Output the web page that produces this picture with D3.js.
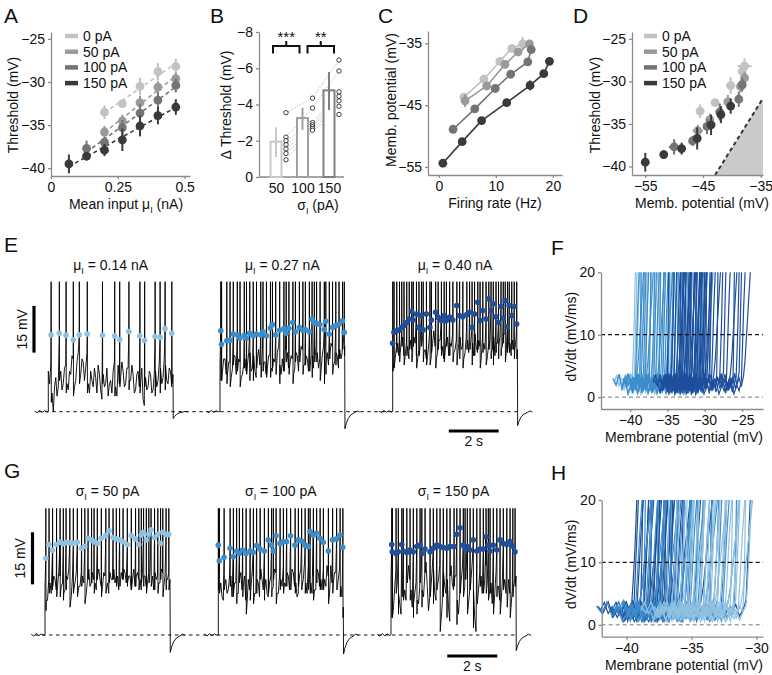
<!DOCTYPE html>
<html><head><meta charset="utf-8">
<script src="https://cdn.jsdelivr.net/npm/d3@7/dist/d3.min.js"></script>
<style>html,body{margin:0;padding:0;background:#fff;} svg{display:block;}</style>
</head><body>
<svg id="fig" width="772" height="675"></svg>
<script>
// ================= DATA =================
const sigmaLabels = ["0 pA","50 pA","100 pA","150 pA"];
const greyShades = ["#c2c2c2","#9a9a9a","#747474","#3a3a3a"];

// Panel A : threshold (mV) vs mean input (nA)
const xTicksA = [0,0.25,0.5];
const yTicksA = [-25,-30,-35,-40];
const muA0 = [0.2,0.267,0.333,0.4,0.467];
const muA1 = [0.2,0.267,0.333,0.4,0.467];
const muA2 = [0.133,0.2,0.267,0.333,0.4,0.467];
const muA3 = [0.067,0.133,0.2,0.267,0.333,0.4,0.467];
const thrA0 = [-33.5,-32.5,-30.5,-28.8,-28.2];
const thrA1 = [-35.8,-34.5,-32.4,-30.6,-29.6];
const thrA2 = [-37.7,-37.0,-35.3,-33.6,-32.1,-30.4];
const thrA3 = [-39.5,-38.6,-37.9,-36.7,-35.1,-33.9,-32.9];
const thrErrA0 = [0.8,0.3,1.0,1.0,0.9];
const thrErrA1 = [0.7,0.7,0.8,0.7,0.7];
const thrErrA2 = [0.9,0.6,0.9,1.0,0.9,0.8];
const thrErrA3 = [1.1,0.5,0.7,1.3,1.2,1.0,0.9];

// Panel B : delta threshold per sigma
const sigmaB = ["50","100","150"];
const barColorsB = ["#c8c8c8","#a0a0a0","#808080"];
const dThrMean = [-1.95,-3.25,-4.78];
const dThrLo = [-1.1,-2.6,-3.7];
const dThrHi = [-2.75,-3.82,-5.8];
const cells50 = [-3.55,-2.2,-2.0,-1.78,-1.55,-1.3,-0.95];
const cells100 = [-4.35,-3.8,-3.0,-2.88,-2.78,-2.68,-2.58];
const cells150 = [-6.45,-5.85,-4.7,-4.45,-4.2,-3.9,-3.45];
const yTicksB = [0,-2,-4,-6,-8];
const starsB = ["***","**"];

// Panel C : membrane potential vs firing rate
const xTicksC = [0,10,20];
const yTicksC = [-35,-45,-55];
const rateC0 = [4.4,7.9,10.7,12.8,14.7];
const vmC0 = [-43.7,-40.8,-37.9,-35.8,-35.1];
const rateC1 = [4.6,8.4,11.6,13.9,15.9];
const vmC1 = [-44.3,-41.9,-38.4,-36.4,-35.1];
const rateC2 = [2.5,6.3,9.9,12.6,15.6,16.2];
const vmC2 = [-48.9,-45.6,-42.3,-40.0,-38.0,-36.0];
const rateC3 = [0.7,4.1,7.5,11.9,16.0,18.4,19.4];
const vmC3 = [-54.4,-50.9,-47.5,-44.6,-41.8,-39.9,-37.9];
const vmErrC0 = [0.5,0.3,0.5,0.4,1.1];
const vmErrC1 = [1.0,0.4,0.4,0.5,0.6];
const vmErrC2 = [0.3,0.4,0.4,0.4,0.5,0.6];
const vmErrC3 = [0.3,0.3,0.4,0.6,0.8,0.4,0.4];

// Panel D : threshold vs membrane potential
const xTicksD = [-55,-45,-35];
const yTicksD = [-25,-30,-35,-40];
const vmD0 = [-45.5,-42.9,-40.2,-38.2,-37.8];
const vmD1 = [-45.9,-43.8,-40.7,-38.5,-37.8];
const vmD2 = [-50.0,-46.8,-44.3,-42.1,-38.8,-38.2];
const vmD3 = [-55.0,-51.8,-48.7,-46.0,-43.6,-41.9,-40.2];
const vmErrD0 = [0.3,0.2,0.8,0.4,1.2];
const vmErrD1 = [0.9,0.4,0.4,0.5,0.6];
const vmErrD2 = [0.9,0.4,0.5,0.4,0.6,0.5];
const vmErrD3 = [0.3,0.4,0.6,0.5,0.7,0.5,0.4];
const unityLine = [[-42.9,-41.0],[-34.8,-32.2]];

// Panels E & G : voltage traces (mV above rest, sampled every 0.05 s over the 5 s step)
const blueShades = ["#8fc1e3","#3c8dcb","#1f4f9c"];
const titlesE = ["0.14 nA","0.27 nA","0.40 nA"];
const titlesG = ["50 pA","100 pA","150 pA"];
const noiseE1 = [13,9,15,6,0,8,11,5,8,12,13,7,9,14,15,9,7,13,12,18,17,8,10,16,19,11,12,17,16,10,14,19,9,6,13,10,8,14,11,6,15,12,7,4,12,8,9,14,5,9,10,6,13,16,8,5,15,9,11,16,13,8,9,14,14,10,10,15,12,6,7,12,13,8,9,14,4,2,11,7,8,13,12,6,7,12,13,8,10,16,14,9,11,17,15,10,9,14,13,8,12];
const noiseE2 = [15,11,13,17,17,12,12,16,16,11,14,18,18,12,13,17,16,11,12,15,17,13,15,19,19,13,14,18,13,11,17,20,15,11,20,16,16,12,14,18,18,14,13,17,16,12,19,21,15,12,17,13,16,20,19,14,15,18,17,12,14,19,18,13,16,21,20,15,15,18,17,13,13,18,18,14,16,21,19,14,17,13,18,21,16,12,19,15,17,22,21,15,16,19,18,14,20,17,19,23,21];
const noiseE3 = [20,16,17,21,22,18,19,23,24,18,18,22,21,17,23,20,19,24,22,18,17,20,21,25,24,19,20,17,18,22,23,18,22,26,21,17,19,23,23,20,21,17,19,24,24,18,22,21,25,19,20,23,18,22,24,20,21,17,19,24,23,19,20,24,22,18,25,21,19,23,21,17,24,22,20,25,18,22,23,19,20,24,18,22,22,17,24,20,21,25,25,19,19,23,22,18,23,20,20,24,20];
const spikeTE1 = [0.11,0.44,0.71,1.0,1.24,1.56,2.17,2.66,2.86,3.23,3.67,3.86,4.28,4.48,4.68,4.95];
const spikeVE1 = [24.7,25.2,24.6,23.1,24.7,25.0,24.6,24.4,23.2,25.8,24.4,22.9,24.2,23.9,26.7,25.2];
const spikeTE2 = [0.03,0.06,0.27,0.40,0.53,0.69,0.80,0.97,1.06,1.19,1.33,1.46,1.63,1.72,1.86,2.02,2.10,2.23,2.39,2.56,2.65,2.76,2.92,3.02,3.18,3.32,3.42,3.58,3.69,3.78,3.87,4.01,4.18,4.24,4.38,4.51,4.64,4.77,4.91,4.98];
const spikeVE2 = [26.0,21.7,22.8,23.0,25.0,24.7,23.6,24.6,23.6,25.2,24.4,25.0,24.7,25.7,24.4,26.9,28.0,24.7,26.2,26.7,25.2,26.8,28.7,25.7,27.1,26.2,26.4,25.7,29.8,28.7,28.4,28.0,26.4,29.1,25.0,27.1,27.6,28.1,29.2,25.5];
const spikeTE3 = [0,0.05,0.16,0.27,0.36,0.45,0.56,0.66,0.76,0.82,0.95,1.05,1.15,1.22,1.35,1.49,1.55,1.72,1.82,1.95,2.06,2.15,2.28,2.41,2.57,2.68,2.81,2.97,3.08,3.18,3.28,3.41,3.50,3.61,3.74,3.85,3.94,4.03,4.14,4.24,4.34,4.43,4.51,4.60,4.67,4.77,4.87,4.97];
const spikeVE3 = [22.0,25.5,26.0,26.3,27.1,27.6,28.7,29.8,32.3,29.5,31.4,27.1,30.9,26.3,31.4,27.1,29.5,32.0,30.4,29.3,30.9,29.3,30.4,29.5,34.1,30.9,30.5,31.2,32.0,27.1,31.4,35.2,29.3,32.5,29.8,36.3,32.5,34.7,30.5,28.7,33.8,30.1,35.7,27.3,34.1,30.9,33.8,28.2];
const ahpE = [-2.2,-5.5,-4.5];

const noiseG1 = [14,10,10,16,15,12,13,17,16,13,14,18,17,14,15,12,13,17,16,19,14,11,17,13,15,18,16,14,14,18,17,15,15,12,16,19,14,15,18,16,15,13,17,19,16,14,14,18,17,13,15,12,18,16,16,19,15,17,17,13,14,18,16,19,18,15,15,17,17,13,16,19,14,17,18,16,16,13,18,17,17,14,15,18,18,16,17,13,18,16,17,15,15,19,18,14,17,16,16,18,16];
const noiseG2 = [12,16,15,11,10,14,16,12,13,17,17,11,11,15,15,12,12,16,18,13,14,17,10,9,16,13,13,18,17,12,12,16,15,11,19,16,13,10,16,12,11,15,17,13,14,19,18,12,12,17,16,14,20,15,14,18,17,13,13,19,18,14,15,11,12,17,19,14,16,21,15,12,20,16,15,12,17,13,13,19,18,14,16,13,19,16,14,20,17,12,20,15,15,18,18,13,16,19,14,11,8];
const noiseG3 = [16,12,8,14,19,15,12,9,6,11,17,13,10,15,20,16,13,8,5,12,15,10,9,14,18,13,11,17,21,14,7,11,14,19,19,12,10,14,16,20,4,9,18,14,12,16,8,4,20,15,13,17,17,10,6,12,15,19,11,14,19,16,9,13,16,21,13,5,1,9,13,18,17,12,12,16,20,15,10,13,15,9,6,12,18,14,14,10,9,15,19,16,12,8,16,12,8,13,14,16,17];
const spikeTG1 = [0.03,0.16,0.30,0.46,0.60,0.73,0.84,0.99,1.13,1.29,1.46,1.59,1.72,1.86,1.96,2.09,2.25,2.43,2.56,2.72,2.85,2.98,3.12,3.29,3.45,3.62,3.75,3.85,3.94,4.05,4.15,4.24,4.38,4.51,4.62,4.71,4.84,4.95];
const spikeVG1 = [22.1,26.1,24.4,26.1,26.7,26.3,26.7,26.6,26.4,26.7,25.0,25.5,27.9,27.4,26.9,26.4,27.9,28.7,30.0,28.1,27.7,27.4,26.9,26.1,28.7,27.7,26.1,28.8,29.6,27.4,29.0,30.3,28.1,29.0,26.4,29.6,29.0,29.0];
const spikeTG2 = [0.0,0.04,0.23,0.47,0.60,0.73,0.84,0.97,1.11,1.27,1.40,1.53,1.67,1.84,2.00,2.13,2.20,2.31,2.47,2.60,2.73,2.89,3.07,3.20,3.33,3.47,3.60,3.67,3.80,3.93,4.07,4.20,4.40,4.57,4.73,4.87,4.98];
const spikeVG2 = [25.9,21.4,22.4,25.0,22.6,24.2,23.5,24.5,23.5,24.2,23.8,25.8,24.8,24.2,27.4,25.9,24.2,28.6,26.4,26.9,26.9,28.6,25.9,27.4,27.1,25.9,25.5,29.8,28.8,29.3,27.9,26.7,24.2,27.4,27.7,28.8,25.3];
const spikeTG3 = [0.03,0.05,0.20,0.29,0.43,0.49,0.63,0.76,0.89,1.03,1.16,1.23,1.36,1.56,1.69,1.83,1.96,2.09,2.23,2.36,2.52,2.63,2.76,2.89,2.96,3.05,3.16,3.29,3.43,3.56,3.69,3.80,3.89,3.96,4.09,4.23,4.36,4.49,4.63,4.76,4.87,4.96];
const spikeVG3 = [26.1,24.0,23.5,24.0,26.1,24.2,23.8,24.5,24.0,25.5,25.9,23.5,24.8,24.0,25.0,25.9,25.5,25.2,25.0,25.5,25.5,29.0,30.9,25.9,25.0,25.5,24.5,27.4,24.2,24.8,24.8,28.3,25.9,24.2,25.9,24.5,27.4,26.4,26.1,26.9,25.6,24.0];
const ahpG = [-5.0,-5.5,-4.5];
const restPre = [[-0.55,0.2],[-0.45,-0.3],[-0.35,0.4],[-0.25,-0.2],[-0.15,0.3],[-0.05,-0.1],[0,0.1]];
const ahpShape = [[5.01,1],[5.06,0.7],[5.14,0.4],[5.25,0.18],[5.4,0.05],[5.5,-0.05],[5.6,0.02]];

// Panels F & H : phase plots (onset voltage of each spike, shape templates)
const phaseTemplates = [
  [[-2.4,2.3],[-2.1,3.6],[-1.8,1.8],[-1.5,2.9],[-1.1,1.2],[-0.8,2.4],[-0.5,0.8],[-0.25,2.0],[0,3.2],[0.12,7],[0.25,12],[0.4,20]],
  [[-1.7,1.1],[-1.4,2.7],[-1.1,1.6],[-0.8,3.3],[-0.5,1.4],[-0.2,2.6],[0,4.0],[0.1,9],[0.22,15],[0.32,20]],
  [[-3.0,3.0],[-2.6,1.9],[-2.2,3.7],[-1.8,1.3],[-1.4,2.8],[-1.0,0.5],[-0.6,1.9],[-0.3,1.0],[0,2.7],[0.15,8],[0.3,14],[0.5,20]],
  [[-2.0,1.5],[-1.7,3.0],[-1.4,2.2],[-1.2,3.8],[-0.9,2.0],[-0.6,3.1],[-0.3,1.7],[0,3.5],[0.2,6],[0.45,11],[0.7,16],[0.9,20]],
  [[-1.2,2.0],[-1.0,0.6],[-0.8,2.4],[-0.55,1.1],[-0.3,3.0],[-0.1,2.2],[0,3.8],[0.08,10],[0.16,20]]
];
const fLight = [-39.7,-39.4,-39.2,-38.8,-38.6,-38.1,-37.9,-37.6,-37.2,-36.9,-36.5,-36.2,-35.7,-35.3,-34.7,-34.1];
const fMid = [-39.3,-39.1,-38.7,-38.5,-38.2,-38.0,-37.8,-37.4,-37.1,-36.8,-36.6,-36.3,-36.1,-35.9,-35.6,-35.4,-35.2,-34.9,-34.6,-34.4,-34.2,-33.9,-33.7,-33.5,-33.2,-33.0,-32.8,-32.5,-32.3,-32.0,-31.8,-31.5,-31.2,-30.9,-30.5,-30.2,-29.8,-29.3];
const fDark = [-35.0,-34.5,-34.1,-33.8,-33.6,-33.4,-33.3,-33.1,-33.0,-32.8,-32.7,-32.5,-32.4,-32.3,-32.1,-32.0,-31.8,-31.7,-31.5,-31.4,-31.3,-31.1,-31.0,-30.8,-30.7,-30.6,-30.4,-30.3,-30.2,-30.0,-29.9,-29.7,-29.4,-29.1,-28.8,-28.4,-28.0,-27.5,-27.1,-26.6,-26.2,-25.8,-25.4,-25.1,-24.8];
const hDark = [-39.6,-39.4,-39.2,-39.0,-38.9,-38.7,-38.6,-38.4,-38.3,-38.2,-38.0,-37.9,-37.8,-37.7,-37.6,-37.5,-37.4,-37.3,-37.2,-37.1,-37.0,-36.9,-36.8,-36.7,-36.6,-36.5,-36.4,-36.2,-36.0,-35.8,-35.5,-35.2,-34.8,-34.3,-33.6,-32.7,-30.8];
const hMid = [-39.3,-39.0,-38.7,-38.5,-38.3,-38.1,-37.9,-37.7,-37.5,-37.3,-37.1,-36.9,-36.7,-36.5,-36.3,-36.1,-35.9,-35.7,-35.5,-35.3,-35.1,-34.9,-34.7,-34.5,-34.3,-34.1,-33.9,-33.6,-33.3,-33.0,-32.6,-32.2,-31.7];
const hLight = [-36.9,-36.5,-36.2,-35.9,-35.7,-35.5,-35.3,-35.1,-34.9,-34.8,-34.6,-34.4,-34.3,-34.1,-34.0,-33.8,-33.7,-33.5,-33.3,-33.2,-33.0,-32.8,-32.6,-32.4,-32.2,-32.0,-31.8,-31.6,-31.4,-31.2,-31.0,-30.8];
const xTicksF = [-40,-35,-30,-25];
const xTicksH = [-40,-35,-30];
const yTicksPhase = [0,10,20];

// ================= DRAWING =================
const svg = d3.select("#fig");
const FONT = "'Liberation Sans', Arial, Helvetica, sans-serif";
const AXC = "#8a8a8a";
svg.style("font-family", FONT);

function styleAxis(g){
  g.select(".domain").attr("stroke",AXC).attr("stroke-width",1.3);
  g.selectAll(".tick line").attr("stroke",AXC).attr("stroke-width",1.3);
  g.selectAll(".tick text").attr("font-size",14).attr("fill","#111").style("font-family",FONT);
}
function vLabel(x,y,str){
  return svg.append("text").attr("transform",`translate(${x},${y}) rotate(-90)`)
    .attr("text-anchor","middle").attr("font-size",14).attr("fill","#111").text(str);
}
function subLabel(x,y,sym,rest,anchor){
  const t = svg.append("text").attr("x",x).attr("y",y).attr("font-size",14).attr("fill","#111").attr("text-anchor",anchor||"middle");
  t.append("tspan").text(sym);
  t.append("tspan").attr("font-size",9).attr("dy",4).text("I");
  t.append("tspan").attr("dy",-4).text(rest);
  return t;
}
function legend(x0,y0){
  sigmaLabels.forEach((s,i)=>{
    svg.append("line").attr("x1",x0).attr("x2",x0+13).attr("y1",y0+i*15.7).attr("y2",y0+i*15.7)
      .attr("stroke",greyShades[i]).attr("stroke-width",4.5);
    svg.append("text").attr("x",x0+18).attr("y",y0+i*15.7+5).attr("font-size",14).attr("fill","#111").text(s);
  });
}
// panel letters
[["A",4,23],["B",210,23],["C",378,23],["D",573,23],["E",4,252],["F",551,255],["G",4,478],["H",551,480]]
  .forEach(d=>svg.append("text").attr("x",d[1]).attr("y",d[2]).attr("font-size",21).attr("fill","#111").text(d[0]));

// ---------- Panel A ----------
const xA = d3.scaleLinear().domain([0,0.52]).range([51,190]);
const yA = d3.scaleLinear().domain([-40.9,-24.2]).range([176,32]);
svg.append("g").attr("transform","translate(0,176)")
  .call(d3.axisBottom(xA).tickValues(xTicksA).tickFormat(d=>String(d)).tickSize(3).tickSizeOuter(0)).call(styleAxis);
svg.append("g").attr("transform","translate(51,0)")
  .call(d3.axisLeft(yA).tickValues(yTicksA).tickSize(3).tickSizeOuter(0)).call(styleAxis);
vLabel(18,105,"Threshold (mV)");
subLabel(126,209,"Mean input μ","  (nA)");
const seriesA = [[muA0,thrA0,thrErrA0],[muA1,thrA1,thrErrA1],[muA2,thrA2,thrErrA2],[muA3,thrA3,thrErrA3]];
function linFit(xs,ys){
  const mx=d3.mean(xs), my=d3.mean(ys);
  let sxy=0,sxx=0; xs.forEach((x,i)=>{sxy+=(x-mx)*(ys[i]-my); sxx+=(x-mx)*(x-mx);});
  const b=sxy/sxx; return x=>my+b*(x-mx);
}
seriesA.forEach(([xs,ys,es],i)=>{
  const f = linFit(xs,ys);
  const x0=xs[0], x1=xs[xs.length-1];
  svg.append("line").attr("x1",xA(x0)).attr("x2",xA(x1)).attr("y1",yA(f(x0))).attr("y2",yA(f(x1)))
    .attr("stroke",greyShades[i]).attr("stroke-width",1.6).attr("stroke-dasharray","4,3");
});
seriesA.forEach(([xs,ys,es],i)=>{
  const g = svg.append("g");
  xs.forEach((x,j)=>{
    g.append("line").attr("x1",xA(x)).attr("x2",xA(x)).attr("y1",yA(ys[j]-es[j])).attr("y2",yA(ys[j]+es[j]))
      .attr("stroke",greyShades[i]).attr("stroke-width",2);
    g.append("circle").attr("cx",xA(x)).attr("cy",yA(ys[j])).attr("r",4.4).attr("fill",greyShades[i]);
  });
});
legend(65,36);

// ---------- Panel B ----------
const xB = d3.scalePoint().domain(sigmaB).range([276,329]);
const yB = d3.scaleLinear().domain([0,-8]).range([177,32]);
svg.append("g").attr("transform","translate(259,0)")
  .call(d3.axisLeft(yB).tickValues(yTicksB).tickSize(3).tickSizeOuter(0)).call(styleAxis);
svg.append("line").attr("x1",259).attr("x2",344).attr("y1",177).attr("y2",177).attr("stroke",AXC).attr("stroke-width",1.3);
const gxB = svg.append("g").attr("transform","translate(0,177)").call(d3.axisBottom(xB).tickSize(0).tickPadding(6)).call(styleAxis);
gxB.select(".domain").remove();
vLabel(231,105,"Δ Threshold (mV)");
subLabel(318,210,"σ","  (pA)");
const cellsB = [cells50,cells100,cells150];
for(let k=0;k<2;k++){
  cellsB[k].forEach((v,j)=>{
    svg.append("line").attr("x1",xB(sigmaB[k])+10).attr("x2",xB(sigmaB[k+1])+10)
      .attr("y1",yB(v)).attr("y2",yB(cellsB[k+1][j]))
      .attr("stroke","#9a9a9a").attr("stroke-width",0.8).attr("stroke-dasharray","1,1.5");
  });
}
sigmaB.forEach((s,i)=>{
  svg.append("rect").attr("x",xB(s)-5.5).attr("width",11).attr("y",yB(dThrMean[i])).attr("height",yB(0)-yB(dThrMean[i]))
    .attr("fill","#fff").attr("stroke",barColorsB[i]).attr("stroke-width",2);
  svg.append("line").attr("x1",xB(s)).attr("x2",xB(s)).attr("y1",yB(dThrLo[i])).attr("y2",yB(dThrHi[i]))
    .attr("stroke",barColorsB[i]).attr("stroke-width",2);
  cellsB[i].forEach(v=>{
    svg.append("circle").attr("cx",xB(s)+10).attr("cy",yB(v)).attr("r",2.2).attr("fill","#fff").attr("stroke","#111").attr("stroke-width",0.8);
  });
});
[[xB("50")-3,xB("100")-3],[xB("100")+5,xB("150")+5]].forEach((b,i)=>{
  const yb = 46, mid=(b[0]+b[1])/2;
  svg.append("path").attr("d",`M${b[0]},53.5V${yb}H${b[1]}V53.5M${mid},${yb}V41`)
    .attr("fill","none").attr("stroke","#111").attr("stroke-width",2);
  svg.append("text").attr("x",mid).attr("y",42).attr("text-anchor","middle").attr("font-size",15).attr("fill","#111").text(starsB[i]);
});

// ---------- Panel C ----------
const xC = d3.scaleLinear().domain([-1.9,21.6]).range([428,562]);
const yC = d3.scaleLinear().domain([-56.3,-33]).range([175,31]);
svg.append("g").attr("transform","translate(0,175)")
  .call(d3.axisBottom(xC).tickValues(xTicksC).tickSize(3).tickSizeOuter(0)).call(styleAxis);
svg.append("g").attr("transform","translate(428,0)")
  .call(d3.axisLeft(yC).tickValues(yTicksC).tickSize(3).tickSizeOuter(0)).call(styleAxis);
vLabel(396,100,"Memb. potential (mV)");
svg.append("text").attr("x",495).attr("y",208).attr("text-anchor","middle").attr("font-size",14).attr("fill","#111").text("Firing rate (Hz)");
const seriesC = [[rateC0,vmC0,vmErrC0],[rateC1,vmC1,vmErrC1],[rateC2,vmC2,vmErrC2],[rateC3,vmC3,vmErrC3]];
seriesC.forEach(([xs,ys,es],i)=>{
  const pts = xs.map((x,j)=>[x,ys[j]]);
  svg.append("path").attr("d",d3.line().x(d=>xC(d[0])).y(d=>yC(d[1]))(pts))
    .attr("fill","none").attr("stroke",greyShades[i]).attr("stroke-width",1.6);
  pts.forEach((p,j)=>{
    svg.append("line").attr("x1",xC(p[0])).attr("x2",xC(p[0])).attr("y1",yC(p[1]-es[j])).attr("y2",yC(p[1]+es[j]))
      .attr("stroke",greyShades[i]).attr("stroke-width",2);
    svg.append("circle").attr("cx",xC(p[0])).attr("cy",yC(p[1])).attr("r",4.4).attr("fill",greyShades[i]);
  });
});

// ---------- Panel D ----------
const xD = d3.scaleLinear().domain([-57.3,-34.6]).range([632,763]);
const yD = d3.scaleLinear().domain([-41,-24.2]).range([175,32]);
svg.append("path").attr("d",`M${xD(unityLine[0][0])},${yD(unityLine[0][1])}L${xD(unityLine[1][0])},${yD(unityLine[1][1])}L${xD(-34.6)},${yD(unityLine[1][1])}L${xD(-34.6)},${yD(unityLine[0][1])}Z`)
  .attr("fill","#cacaca");
svg.append("line").attr("x1",xD(unityLine[0][0])).attr("y1",yD(unityLine[0][1])).attr("x2",xD(unityLine[1][0])).attr("y2",yD(unityLine[1][1]))
  .attr("stroke","#333").attr("stroke-width",2).attr("stroke-dasharray","4,3");
svg.append("g").attr("transform","translate(0,175)")
  .call(d3.axisBottom(xD).tickValues(xTicksD).tickSize(3).tickSizeOuter(0)).call(styleAxis);
svg.append("g").attr("transform","translate(632,0)")
  .call(d3.axisLeft(yD).tickValues(yTicksD).tickSize(3).tickSizeOuter(0)).call(styleAxis);
vLabel(600,105,"Threshold (mV)");
svg.append("text").attr("x",702).attr("y",208).attr("text-anchor","middle").attr("font-size",14).attr("fill","#111").text("Memb. potential (mV)");
const seriesD = [[vmD0,thrA0,vmErrD0,thrErrA0],[vmD1,thrA1,vmErrD1,thrErrA1],[vmD2,thrA2,vmErrD2,thrErrA2],[vmD3,thrA3,vmErrD3,thrErrA3]];
seriesD.forEach(([xs,ys,ex,ey],i)=>{
  xs.forEach((x,j)=>{
    svg.append("line").attr("x1",xD(x)).attr("x2",xD(x)).attr("y1",yD(ys[j]-ey[j])).attr("y2",yD(ys[j]+ey[j]))
      .attr("stroke",greyShades[i]).attr("stroke-width",2);
    svg.append("line").attr("x1",xD(x-ex[j])).attr("x2",xD(x+ex[j])).attr("y1",yD(ys[j])).attr("y2",yD(ys[j]))
      .attr("stroke",greyShades[i]).attr("stroke-width",2);
    svg.append("circle").attr("cx",xD(x)).attr("cy",yD(ys[j])).attr("r",4.4).attr("fill",greyShades[i]);
  });
});
legend(644,36);

// ---------- Panels E & G (traces) ----------
function buildTrace(noise, sT, sV, top, ahp){
  const step = 5/(noise.length-1);
  const pts = restPre.map(d=>({t:d[0],v:d[1]}));
  noise.forEach((v,i)=>pts.push({t:i*step,v:v}));
  sT.forEach((t,k)=>{
    const idx = Math.min(noise.length-1, Math.round(t/step)+1);
    pts.push({t:t,v:sV[k]});
    pts.push({t:t+0.003,v:top});
    pts.push({t:t+0.01,v:noise[idx]-3});
  });
  pts.sort((a,b)=>a.t-b.t);
  ahpShape.forEach(d=>pts.push({t:d[0],v:ahp*d[1]}));
  return pts;
}
function drawTraceRow(cfg){
  const {starts,width,baseY,topV,pxPerMV,noises,spT,spV,ahps,titles,symbol,titleY,barX,barLow,labelX} = cfg;
  const yT = d3.scaleLinear().domain([0,topV]).range([baseY, baseY-topV*pxPerMV]);
  const xs = starts.map(s=>d3.scaleLinear().domain([0,5]).range([s,s+width]));
  svg.append("line").attr("x1",xs[0](-0.4)).attr("x2",xs[2](5.05)).attr("y1",yT(0)).attr("y2",yT(0))
    .attr("stroke","#111").attr("stroke-width",1).attr("stroke-dasharray","3.5,3.5");
  for(let i=0;i<3;i++){
    const pts = buildTrace(noises[i],spT[i],spV[i],topV,ahps[i]);
    svg.append("path").attr("d",d3.line().x(d=>xs[i](d.t)).y(d=>yT(d.v))(pts))
      .attr("fill","none").attr("stroke","#000").attr("stroke-width",0.9);
    spT[i].forEach((t,k)=>{
      svg.append("circle").attr("cx",xs[i](t)).attr("cy",yT(spV[i][k])).attr("r",2.8).attr("fill",blueShades[i]);
    });
    subLabel(xs[i](2.5),titleY,symbol,"  = "+titles[i]);
  }
  svg.append("line").attr("x1",barX).attr("x2",barX).attr("y1",yT(barLow)).attr("y2",yT(barLow+15))
    .attr("stroke","#000").attr("stroke-width",3.2);
  vLabel(labelX,(yT(barLow)+yT(barLow+15))/2,"15 mV");
  const sbY = cfg.sbY;
  svg.append("line").attr("x1",xs[2](2.25)).attr("x2",xs[2](4.25)).attr("y1",sbY).attr("y2",sbY)
    .attr("stroke","#000").attr("stroke-width",3.2);
  svg.append("text").attr("x",xs[2](3.25)).attr("y",sbY+15).attr("text-anchor","middle").attr("font-size",14).attr("fill","#111").text("2 s");
}
drawTraceRow({starts:[48.3,220,392.7],width:124.7,baseY:411.7,topV:41.8,pxPerMV:3.11,
  noises:[noiseE1,noiseE2,noiseE3],spT:[spikeTE1,spikeTE2,spikeTE3],spV:[spikeVE1,spikeVE2,spikeVE3],ahps:ahpE,
  titles:titlesE,symbol:"μ",titleY:270,barX:34,barLow:19,labelX:27,sbY:431});
drawTraceRow({starts:[45,218.3,391],width:125,baseY:635,topV:36.5,pxPerMV:3.47,
  noises:[noiseG1,noiseG2,noiseG3],spT:[spikeTG1,spikeTG2,spikeTG3],spV:[spikeVG1,spikeVG2,spikeVG3],ahps:ahpG,
  titles:titlesG,symbol:"σ",titleY:496,barX:32.5,barLow:14.6,labelX:25,sbY:656});

// ---------- Panels F & H (phase plots) ----------
function drawPhase(cfg){
  const {xDom,xRange,yRange,xTicks,groups,labelY} = cfg;
  const x = d3.scaleLinear().domain(xDom).range(xRange);
  const y = d3.scaleLinear().domain([-1.9,20]).range(yRange);
  const line = d3.line().x(d=>x(d[0])).y(d=>y(d[1]));
  groups.forEach(([onsets,color],gi)=>{
    onsets.forEach((v0,k)=>{
      const tpl = phaseTemplates[(k+gi*2)%phaseTemplates.length];
      svg.append("path").attr("d",line(tpl.map(p=>[v0+p[0],p[1]])))
        .attr("fill","none").attr("stroke",color).attr("stroke-width",1.2);
    });
  });
  svg.append("line").attr("x1",xRange[0]).attr("x2",xRange[1]).attr("y1",y(10)).attr("y2",y(10))
    .attr("stroke","#111").attr("stroke-width",1.3).attr("stroke-dasharray","4,3");
  svg.append("line").attr("x1",xRange[0]).attr("x2",xRange[1]).attr("y1",y(0)).attr("y2",y(0))
    .attr("stroke","#777").attr("stroke-width",1).attr("stroke-dasharray","4,3");
  svg.append("g").attr("transform",`translate(0,${yRange[0]})`)
    .call(d3.axisBottom(x).tickValues(xTicks).tickSize(3).tickSizeOuter(0)).call(styleAxis);
  svg.append("g").attr("transform",`translate(${xRange[0]},0)`)
    .call(d3.axisLeft(y).tickValues(yTicksPhase).tickSize(3).tickSizeOuter(0)).call(styleAxis);
  vLabel(576,(yRange[0]+yRange[1])/2-4,"dV/dt (mV/ms)");
  svg.append("text").attr("x",684).attr("y",labelY).attr("text-anchor","middle").attr("font-size",14).attr("fill","#111").text("Membrane potential (mV)");
}
drawPhase({xDom:[-43.9,-22.2],xRange:[601,763],yRange:[409,272.3],xTicks:xTicksF,labelY:442,
  groups:[[fLight,blueShades[0]],[fMid,blueShades[1]],[fDark,blueShades[2]]]});
drawPhase({xDom:[-41.9,-29.5],xRange:[601.7,763],yRange:[636.7,500],xTicks:xTicksH,labelY:670,
  groups:[[hDark,blueShades[2]],[hMid,blueShades[1]],[hLight,blueShades[0]]]});
</script>
</body></html>
